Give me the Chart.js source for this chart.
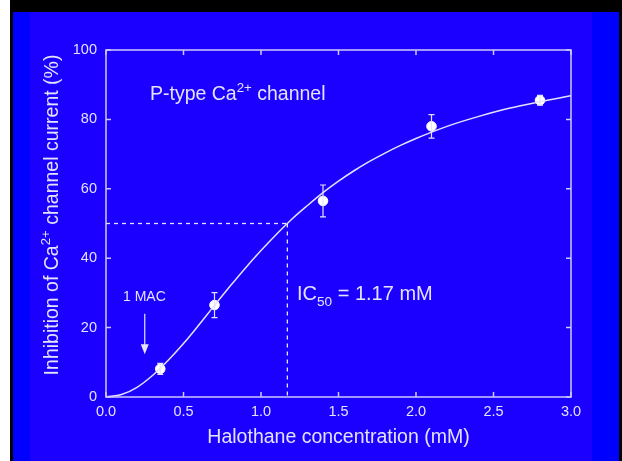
<!DOCTYPE html>
<html>
<head>
<meta charset="utf-8">
<script src="https://cdn.jsdelivr.net/npm/chart.js@4.4.0/dist/chart.umd.min.js"></script>
<style>
  html, body { margin: 0; padding: 0; background: #fff; }
  #wrap { width: 622px; height: 461px; }
</style>
</head>
<body>
<div id="wrap"><canvas id="chart" width="622" height="461"></canvas></div>
<script>
// measured points (mean +/- error)
const doseX = [0.35, 0.7, 1.4, 2.1, 2.8];
const inhibition = [8.1, 26.5, 56.5, 78.0, 85.5];
const errBar = [1.6, 3.6, 4.6, 3.4, 1.4];

// fitted curve
const fitX = [0, 0.1, 0.2, 0.3, 0.4, 0.5, 0.6, 0.7, 0.8, 0.9, 1.0, 1.1, 1.2, 1.3, 1.4, 1.5,
              1.6, 1.7, 1.8, 1.9, 2.0, 2.2, 2.4, 2.6, 2.8, 3.0];
const fitY = [0, 0.7, 2.8, 6.2, 10.5, 15.4, 20.8, 26.4, 31.9, 37.2, 42.2, 46.9, 51.3, 55.2, 58.9, 62.2,
              65.2, 67.9, 70.3, 72.5, 74.5, 78.0, 80.8, 83.2, 85.1, 86.8];

const ic50 = 1.17;
const macDose = 0.25;
const xTicks = [0.0, 0.5, 1.0, 1.5, 2.0, 2.5, 3.0];
const yTicks = [0, 20, 40, 60, 80, 100];

const fg = '#e4e2ff';
const font = '"Liberation Sans", Arial, Helvetica, sans-serif';

function richText(ctx, x, y, parts, size) {
  let cx = x;
  parts.forEach(p => {
    const s = p.sup || p.sub ? size * 0.68 : size;
    ctx.font = s + 'px ' + font;
    let dy = 0;
    if (p.sup) dy = -size * 0.42;
    if (p.sub) dy = size * 0.28;
    ctx.fillText(p.t, cx, y + dy);
    cx += ctx.measureText(p.t).width;
  });
}

const backdrop = {
  id: 'backdrop',
  beforeDraw(chart) {
    const ctx = chart.ctx;
    ctx.save();
    ctx.fillStyle = '#ffffff';
    ctx.fillRect(0, 0, 622, 461);
    ctx.fillStyle = '#000000';
    ctx.fillRect(10, 0, 612, 461);
    ctx.fillStyle = '#0000ff';
    ctx.fillRect(13, 12, 606, 449);
    ctx.fillStyle = '#1c00ff';
    ctx.fillRect(30, 12, 562, 449);
    ctx.restore();
  }
};

const overlay = {
  id: 'overlay',
  afterDatasetsDraw(chart) {
    const ctx = chart.ctx;
    const xs = chart.scales.x, ys = chart.scales.y;
    const a = chart.chartArea;
    ctx.save();
    ctx.strokeStyle = '#cfc8ff';
    ctx.lineWidth = 1.5;
    ctx.strokeRect(a.left, a.top, a.right - a.left, a.bottom - a.top);
    // inward ticks on all sides
    ctx.beginPath();
    xTicks.forEach(v => {
      const px = xs.getPixelForValue(v);
      ctx.moveTo(px, a.bottom); ctx.lineTo(px, a.bottom - 5);
      ctx.moveTo(px, a.top); ctx.lineTo(px, a.top + 5);
    });
    yTicks.forEach(v => {
      const py = ys.getPixelForValue(v);
      ctx.moveTo(a.left, py); ctx.lineTo(a.left + 5, py);
      ctx.moveTo(a.right, py); ctx.lineTo(a.right - 5, py);
    });
    ctx.stroke();

    // error bars
    ctx.strokeStyle = fg;
    ctx.lineWidth = 1.2;
    ctx.beginPath();
    doseX.forEach((d, i) => {
      const px = xs.getPixelForValue(d);
      const top = ys.getPixelForValue(inhibition[i] + errBar[i]);
      const bot = ys.getPixelForValue(inhibition[i] - errBar[i]);
      ctx.moveTo(px, top); ctx.lineTo(px, bot);
      ctx.moveTo(px - 3, top); ctx.lineTo(px + 3, top);
      ctx.moveTo(px - 3, bot); ctx.lineTo(px + 3, bot);
    });
    ctx.stroke();

    // 1 MAC arrow
    const mx = xs.getPixelForValue(macDose);
    const y1 = ys.getPixelForValue(24), y2 = ys.getPixelForValue(12.3);
    ctx.beginPath();
    ctx.moveTo(mx, y1); ctx.lineTo(mx, y2 - 8);
    ctx.stroke();
    ctx.fillStyle = fg;
    ctx.beginPath();
    ctx.moveTo(mx - 4, y2 - 10); ctx.lineTo(mx + 4, y2 - 10); ctx.lineTo(mx, y2);
    ctx.closePath();
    ctx.fill();

    // labels
    ctx.fillStyle = fg;
    ctx.textBaseline = 'alphabetic';
    ctx.textAlign = 'left';
    ctx.font = '14px ' + font;
    ctx.fillText('1 MAC', 123, 301);
    richText(ctx, 150, 100, [{t: 'P-type Ca'}, {t: '2+', sup: true}, {t: ' channel'}], 19.5);
    richText(ctx, 297, 300, [{t: 'IC'}, {t: '50', sub: true}, {t: ' = 1.17 mM'}], 20);

    // y axis title
    ctx.save();
    ctx.translate(58, 215);
    ctx.rotate(-Math.PI / 2);
    const parts = [{t: 'Inhibition of Ca'}, {t: '2+', sup: true}, {t: ' channel current (%)'}];
    let w = 0;
    parts.forEach(p => { ctx.font = (p.sup ? 19.5 * 0.68 : 19.5) + 'px ' + font; w += ctx.measureText(p.t).width; });
    richText(ctx, -w / 2, 0, parts, 19.5);
    ctx.restore();
    ctx.restore();
  }
};

new Chart(document.getElementById('chart').getContext('2d'), {
  type: 'scatter',
  data: {
    datasets: [
      {
        label: 'fit',
        type: 'line',
        data: fitX.map((x, i) => ({x: x, y: fitY[i]})),
        borderColor: fg,
        borderWidth: 1.5,
        pointRadius: 0,
        cubicInterpolationMode: 'monotone',
        fill: false
      },
      {
        label: 'ic50 h',
        type: 'line',
        data: [{x: 0, y: 50}, {x: ic50, y: 50}],
        borderColor: fg,
        borderWidth: 1.3,
        borderDash: [4, 4],
        pointRadius: 0
      },
      {
        label: 'ic50 v',
        type: 'line',
        data: [{x: ic50, y: 50}, {x: ic50, y: 0}],
        borderColor: fg,
        borderWidth: 1.3,
        borderDash: [4, 4],
        pointRadius: 0
      },
      {
        label: 'data',
        data: doseX.map((x, i) => ({x: x, y: inhibition[i]})),
        backgroundColor: '#ffffff',
        borderColor: '#ffffff',
        pointRadius: 4.8
      }
    ]
  },
  options: {
    responsive: false,
    animation: false,
    devicePixelRatio: 1,
    layout: { padding: { top: 50, right: 51, left: 0, bottom: 0 } },
    plugins: { legend: { display: false }, tooltip: { enabled: false } },
    scales: {
      x: {
        type: 'linear',
        min: 0, max: 3,
        afterFit: s => { s.height = 64; },
        afterBuildTicks: s => { s.ticks = xTicks.map(v => ({value: v})); },
        grid: { display: false, drawTicks: false },
        border: { display: false },
        ticks: { color: fg, font: { family: font, size: 14.5 }, padding: 6, callback: v => v.toFixed(1) },
        title: { display: true, text: 'Halothane concentration (mM)', color: fg, font: { family: font, size: 19.5 }, padding: { top: 4, bottom: 12 } }
      },
      y: {
        type: 'linear',
        min: 0, max: 100,
        afterFit: s => { s.width = 106; },
        afterBuildTicks: s => { s.ticks = yTicks.map(v => ({value: v})); },
        grid: { display: false, drawTicks: false },
        border: { display: false },
        ticks: { color: fg, font: { family: font, size: 14.5 }, padding: 9 }
      }
    }
  },
  plugins: [backdrop, overlay]
});
</script>
</body>
</html>
